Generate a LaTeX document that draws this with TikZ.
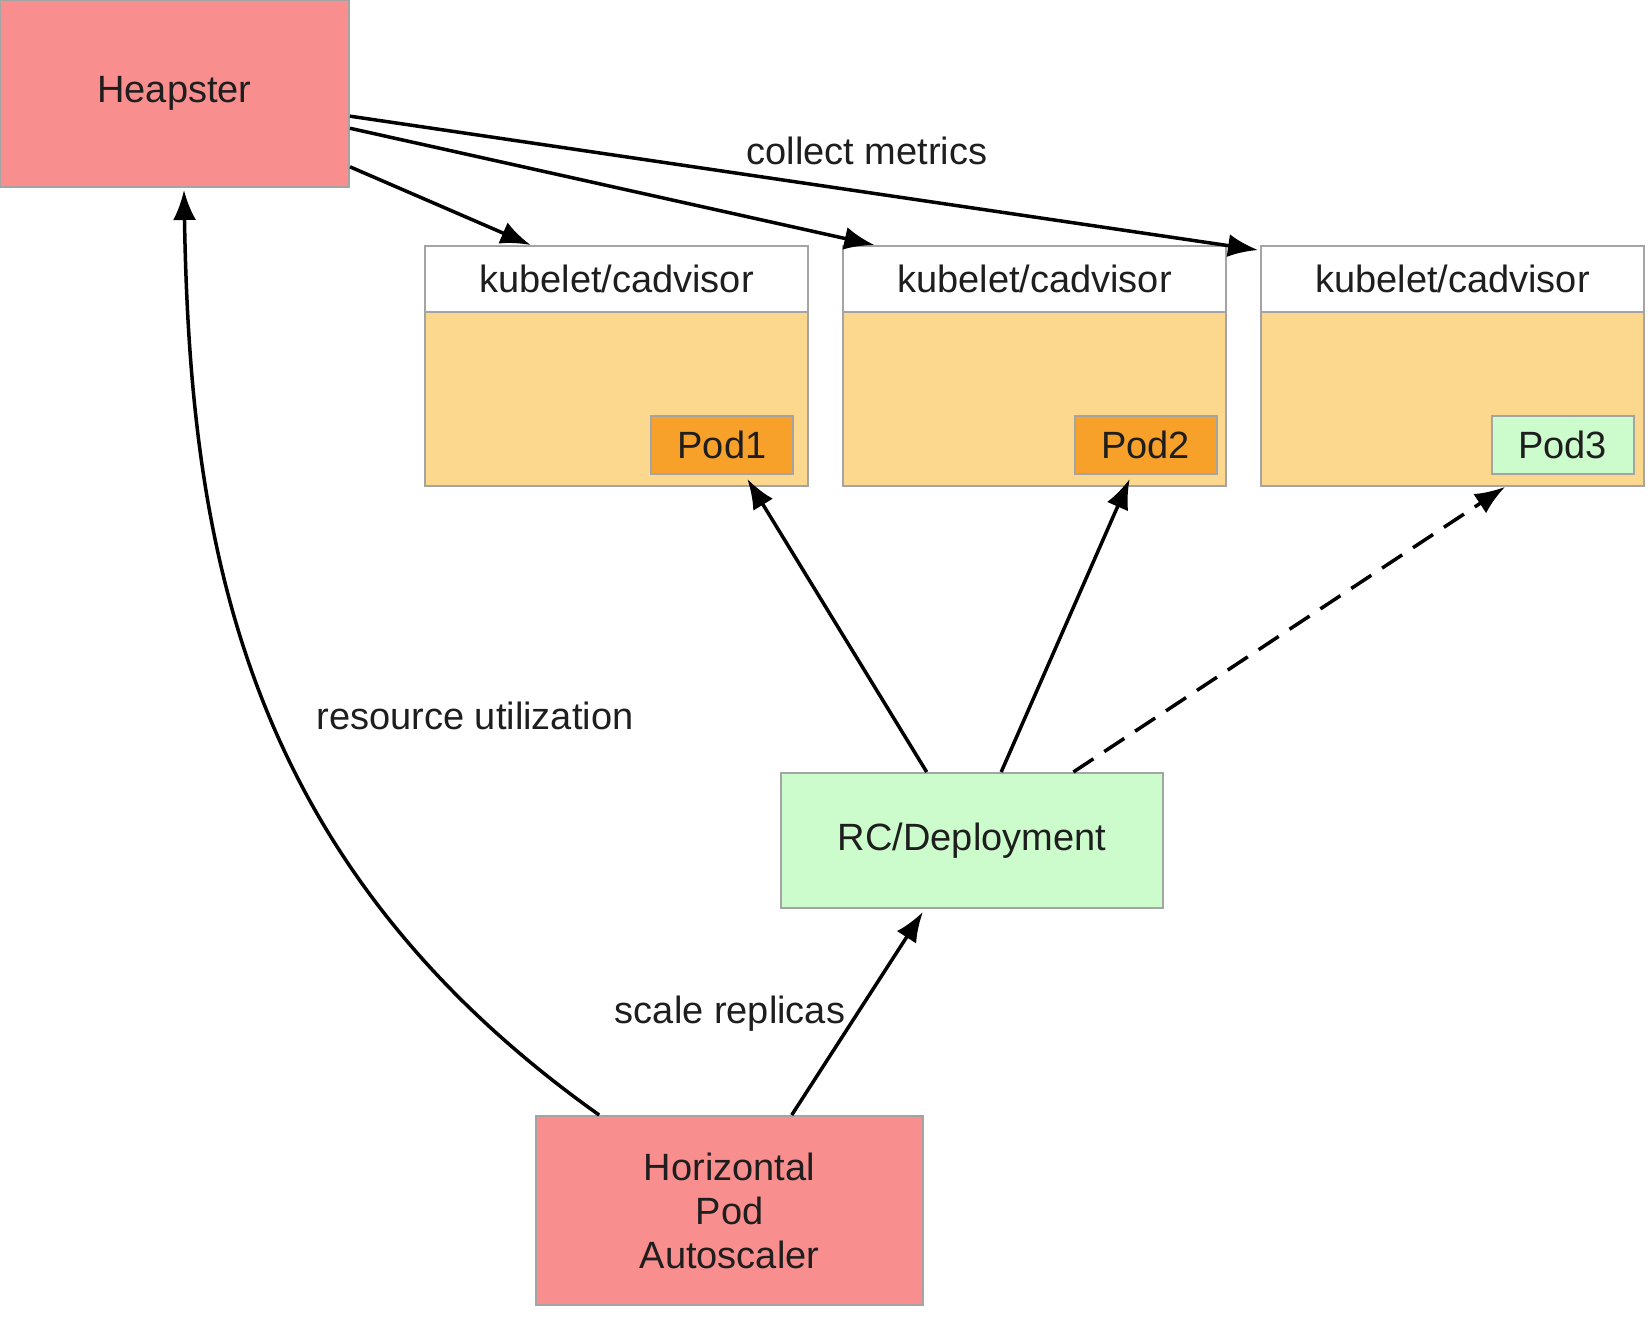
\documentclass[tikz,border=0pt]{standalone}
\usepackage{fontspec}
\setmainfont{Liberation Sans}
\usetikzlibrary{arrows.meta,calc}
\definecolor{pinkfill}{HTML}{F98E8E}
\definecolor{nodefill}{HTML}{FBD88E}
\definecolor{podorange}{HTML}{F7A02A}
\definecolor{lightgreen}{HTML}{CCFBCC}
\definecolor{boxline}{HTML}{A4A4A4}
\definecolor{txt}{HTML}{1E1E1E}
\begin{document}
\begin{tikzpicture}[x=1pt,y=-1pt,
  box/.style={draw=boxline,line width=2pt,rectangle,inner sep=0pt,text=txt,
    font=\fontsize{38}{44}\selectfont,align=center},
  conn/.style={line width=3.5pt,-{Latex[length=30pt,width=23pt]},black},
  lbl/.style={text=txt,font=\fontsize{38}{44}\selectfont,inner sep=0pt}]
\useasboundingbox (0,0) rectangle (1648,1328);
% Heapster
\node[box,fill=pinkfill,minimum width=349pt,minimum height=187pt] (heap) at (174.5,93.5) {\raisebox{-3pt}{Heapster}};
% kubelet boxes
\foreach \i/\cx in {1/616.5,2/1034.5,3/1452.5}{
  \node[box,fill=nodefill,minimum width=383pt,minimum height=240pt] (kb\i) at (\cx,366) {};
  \node[box,fill=white,minimum width=383pt,minimum height=66pt] (kh\i) at (\cx,279) {kubelet/cadvisor};
}
% Pods
\node[box,fill=podorange,minimum width=142pt,minimum height=58pt] (p1) at (722,445) {Pod1};
\node[box,fill=podorange,minimum width=142pt,minimum height=58pt] (p2) at (1145.5,445) {Pod2};
\node[box,fill=lightgreen,minimum width=142pt,minimum height=58pt] (p3) at (1562.5,445) {Pod3};
% RC / Deployment
\node[box,fill=lightgreen,minimum width=382pt,minimum height=135pt] (rc) at (972,840.5) {\raisebox{-3pt}{RC/Deployment}};
% HPA
\node[box,fill=pinkfill,minimum width=387pt,minimum height=189pt] (hpa) at (729.5,1210.5) {Horizontal\\Pod\\Autoscaler};
% labels
\node[lbl] (lcm) at (867,151) {collect metrics};
\node[lbl] (lru) at (475,716) {resource utilization};
\node[lbl] (lsr) at (730,1014) {scale replicas};
% collect metrics arrows
\draw[conn] ($(heap.north east)!0.888!(heap.south east)$) -- ($(kh1.north west)!0.277!(kh1.north east)$);
\draw[conn] ($(heap.north east)!0.684!(heap.south east)$) -- ($(kh2.north west)!0.084!(kh2.north east)$);
\draw[conn] ($(heap.north east)!0.62!(heap.south east)$) -- ($(kh3.north west)+(-2,5)$);
% RC to pods
\draw[conn] ($(rc.north west)!0.382!(rc.north east)$) -- ($(p1.south west)!0.676!(p1.south east)+(0,4)$);
\draw[conn] ($(rc.north west)!0.576!(rc.north east)$) -- ($(p2.south west)!0.39!(p2.south east)+(0,4)$);
\draw[conn,dash pattern=on 24pt off 13pt] ($(rc.north west)!0.764!(rc.north east)$) -- ($(p3.south west)!0.10!(p3.south east)+(0,12)$);
% HPA to RC
\draw[conn] ($(hpa.north west)!0.66!(hpa.north east)$) -- ($(rc.south west)!0.372!(rc.south east)+(0,3)$);
% HPA to Heapster
\draw[conn] ($(hpa.north west)!0.165!(hpa.north east)$) .. controls (240,860) and (190,540) .. ($(heap.south west)!0.527!(heap.south east)+(0,2)$);
\end{tikzpicture}
\end{document}
